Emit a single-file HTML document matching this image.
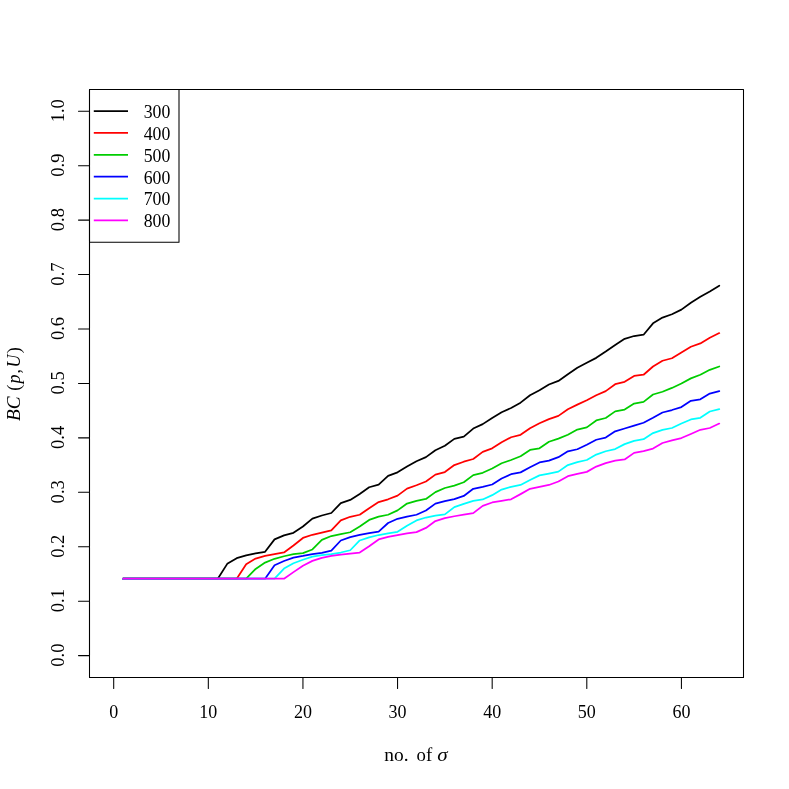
<!DOCTYPE html>
<html><head><meta charset="utf-8"><title>plot</title>
<style>
html,body{margin:0;padding:0;background:#fff;}
body{width:789px;height:789px;overflow:hidden;}
svg{display:block;will-change:transform;}
text{font-family:"Liberation Serif",serif;font-size:18px;fill:#000;}
.i{font-style:italic;}
.ax{stroke:#000;stroke-width:1.05;fill:none;stroke-linecap:round;stroke-linejoin:round;}
.d{fill:none;stroke-width:1.75;stroke-linecap:round;stroke-linejoin:round;}
</style></head><body>
<svg width="789" height="789" viewBox="0 0 789 789">
<rect x="0" y="0" width="789" height="789" fill="#ffffff"/>
<polyline class="d" stroke="#000000" points="123.16,578.7 217.78,578.7 227.24,563.87 236.71,558.16 246.17,555.37 255.63,553.35 265.09,551.83 274.55,539.4 284.02,535.35 293.48,532.81 302.94,526.54 312.4,518.56 321.86,515.51 331.33,512.98 340.79,503.09 350.25,499.92 359.71,493.97 369.17,487.25 378.64,484.71 388.1,475.84 397.56,472.36 407.02,466.58 416.48,461.25 425.95,457.15 435.41,450.3 444.87,445.74 454.33,438.9 463.79,436.62 473.26,428.56 482.72,424.14 492.18,417.91 501.64,412.28 511.1,407.94 520.57,402.67 530.03,395.26 539.49,390.31 548.95,384.55 558.41,380.92 567.88,374.33 577.34,367.74 586.8,362.8 596.26,357.85 605.72,351.59 615.19,345 624.65,338.82 634.11,336.02 643.57,334.7 653.03,323.33 662.5,317.57 671.96,314.27 681.42,309.66 690.88,302.74 700.34,296.81 709.81,291.53 719.27,285.77"/>
<polyline class="d" stroke="#ff0000" points="123.16,578.7 236.71,578.7 246.17,564.25 255.63,558.54 265.09,555.88 274.55,554.11 284.02,552.46 293.48,545.55 302.94,537.95 312.4,534.78 321.86,532.62 331.33,530.34 340.79,520.33 350.25,516.78 359.71,514.75 369.17,508.16 378.64,502.08 388.1,499.29 397.56,495.63 407.02,488.63 416.48,485.29 425.95,481.48 435.41,474.64 444.87,472.05 454.33,465.06 463.79,461.71 473.26,458.97 482.72,451.83 492.18,448.33 501.64,442.24 511.1,437.27 520.57,434.8 530.03,428.21 539.49,423.27 548.95,419.15 558.41,415.85 567.88,409.26 577.34,404.65 586.8,400.2 596.26,395.26 605.72,391.14 615.19,384.22 624.65,381.83 634.11,375.9 643.57,374.74 653.03,366.51 662.5,360.74 671.96,358.27 681.42,352.5 690.88,346.73 700.34,343.44 709.81,337.67 719.27,333.06"/>
<polyline class="d" stroke="#00cd00" points="123.16,578.7 246.17,578.7 255.63,568.94 265.09,562.6 274.55,558.8 284.02,556.26 293.48,554.17 302.94,553.16 312.4,549.48 321.86,539.85 331.33,536.05 340.79,534.14 350.25,532.24 359.71,526.54 369.17,519.95 378.64,516.65 388.1,514.75 397.56,510.38 407.02,503.54 416.48,500.8 425.95,498.97 435.41,492.13 444.87,488.02 454.33,485.59 463.79,482.24 473.26,475.1 482.72,472.81 492.18,468.56 501.64,463.23 511.1,460.01 520.57,456.22 530.03,449.96 539.49,448.31 548.95,441.72 558.41,438.59 567.88,434.8 577.34,429.53 586.8,427.39 596.26,420.47 605.72,417.99 615.19,411.4 624.65,409.59 634.11,403.58 643.57,401.93 653.03,394.52 662.5,391.72 671.96,387.93 681.42,383.48 690.88,378.37 700.34,374.74 709.81,369.8 719.27,366.51"/>
<polyline class="d" stroke="#0000ff" points="123.16,578.7 265.09,578.7 274.55,565.26 284.02,560.95 293.48,557.59 302.94,555.94 312.4,554.04 321.86,552.78 331.33,550.62 340.79,540.48 350.25,537.06 359.71,534.78 369.17,533.13 378.64,531.61 388.1,522.98 397.56,518.8 407.02,516.64 416.48,514.74 425.95,510.56 435.41,503.59 444.87,501.05 454.33,499.15 463.79,495.93 473.26,488.78 482.72,486.81 492.18,484.52 501.64,478.44 511.1,474.18 520.57,472.36 530.03,467.34 539.49,462.47 548.95,460.65 558.41,457.15 567.88,451.37 577.34,449.24 586.8,444.69 596.26,439.74 605.72,437.56 615.19,431.3 624.65,428.49 634.11,425.69 643.57,422.73 653.03,417.78 662.5,412.51 671.96,410.04 681.42,407.07 690.88,400.81 700.34,399.33 709.81,393.56 719.27,391.09"/>
<polyline class="d" stroke="#00ffff" points="123.16,578.7 274.55,578.7 284.02,568.56 293.48,563.23 302.94,559.75 312.4,556.58 321.86,555.06 331.33,554.04 340.79,552.52 350.25,550.24 359.71,540.48 369.17,537.31 378.64,535.02 388.1,533.37 397.56,531.85 407.02,525.77 416.48,520.44 425.95,517.53 435.41,515.63 444.87,514.36 454.33,507.14 463.79,503.84 473.26,500.95 482.72,499.43 492.18,495.17 501.64,489.54 511.1,486.81 520.57,484.98 530.03,479.96 539.49,475.4 548.95,473.57 558.41,471.6 567.88,465.06 577.34,462.17 586.8,460.01 596.26,454.57 605.72,451.23 615.19,449.09 624.65,444.15 634.11,440.85 643.57,439.2 653.03,433.11 662.5,429.81 671.96,428 681.42,423.55 690.88,419.43 700.34,417.78 709.81,411.52 719.27,409.22"/>
<polyline class="d" stroke="#ff00ff" points="123.16,578.7 284.02,578.7 293.48,572.1 302.94,565.77 312.4,560.89 321.86,557.85 331.33,555.94 340.79,554.68 350.25,553.54 359.71,552.52 369.17,546.19 378.64,539.46 388.1,536.92 397.56,535.02 407.02,533.37 416.48,532.1 425.95,527.92 435.41,521.08 444.87,518.16 454.33,516.26 463.79,514.64 473.26,513.12 482.72,505.82 492.18,502.47 501.64,500.95 511.1,499.28 520.57,494.11 530.03,488.78 539.49,486.81 548.95,484.98 558.41,481.48 567.88,476.16 577.34,473.88 586.8,471.87 596.26,466.6 605.72,463.1 615.19,460.62 624.65,459.47 634.11,452.88 643.57,451.07 653.03,448.6 662.5,442.99 671.96,440.36 681.42,438.05 690.88,433.93 700.34,429.81 709.81,428 719.27,423.55"/>
<path class="ax" d="M113.7 677.4 H681.42 M113.7 677.4 v11 M208.32 677.4 v11 M302.94 677.4 v11 M397.56 677.4 v11 M492.18 677.4 v11 M586.8 677.4 v11 M681.42 677.4 v11"/>
<text x="113.7" y="717.9" text-anchor="middle">0</text>
<text x="208.32" y="717.9" text-anchor="middle">10</text>
<text x="302.94" y="717.9" text-anchor="middle">20</text>
<text x="397.56" y="717.9" text-anchor="middle">30</text>
<text x="492.18" y="717.9" text-anchor="middle">40</text>
<text x="586.8" y="717.9" text-anchor="middle">50</text>
<text x="681.42" y="717.9" text-anchor="middle">60</text>
<path class="ax" d="M89.5 655.6 V111.25 M89.5 655.6 h-11 M89.5 601.16 h-11 M89.5 546.73 h-11 M89.5 492.3 h-11 M89.5 437.86 h-11 M89.5 383.43 h-11 M89.5 328.99 h-11 M89.5 274.56 h-11 M89.5 220.12 h-11 M89.5 165.68 h-11 M89.5 111.25 h-11"/>
<text transform="translate(64,655.1) rotate(-90)" text-anchor="middle" textLength="23.2" lengthAdjust="spacingAndGlyphs">0.0</text>
<text transform="translate(64,600.66) rotate(-90)" text-anchor="middle" textLength="23.2" lengthAdjust="spacingAndGlyphs">0.1</text>
<text transform="translate(64,546.23) rotate(-90)" text-anchor="middle" textLength="23.2" lengthAdjust="spacingAndGlyphs">0.2</text>
<text transform="translate(64,491.8) rotate(-90)" text-anchor="middle" textLength="23.2" lengthAdjust="spacingAndGlyphs">0.3</text>
<text transform="translate(64,437.36) rotate(-90)" text-anchor="middle" textLength="23.2" lengthAdjust="spacingAndGlyphs">0.4</text>
<text transform="translate(64,382.93) rotate(-90)" text-anchor="middle" textLength="23.2" lengthAdjust="spacingAndGlyphs">0.5</text>
<text transform="translate(64,328.49) rotate(-90)" text-anchor="middle" textLength="23.2" lengthAdjust="spacingAndGlyphs">0.6</text>
<text transform="translate(64,274.06) rotate(-90)" text-anchor="middle" textLength="23.2" lengthAdjust="spacingAndGlyphs">0.7</text>
<text transform="translate(64,219.62) rotate(-90)" text-anchor="middle" textLength="23.2" lengthAdjust="spacingAndGlyphs">0.8</text>
<text transform="translate(64,165.18) rotate(-90)" text-anchor="middle" textLength="23.2" lengthAdjust="spacingAndGlyphs">0.9</text>
<text transform="translate(64,110.75) rotate(-90)" text-anchor="middle" textLength="23.2" lengthAdjust="spacingAndGlyphs">1.0</text>
<rect class="ax" x="89.5" y="89.5" width="654" height="587.9"/>
<text x="384.3" y="760.7" textLength="24.3" lengthAdjust="spacingAndGlyphs">no.</text>
<text x="416.6" y="760.7" textLength="15.6" lengthAdjust="spacingAndGlyphs">of</text>
<text class="i" x="437.2" y="760.7" textLength="10.4" lengthAdjust="spacingAndGlyphs">σ</text>
<g transform="translate(20,421) rotate(-90)"><text class="i" x="0" y="0" textLength="24.6" lengthAdjust="spacingAndGlyphs">BC</text><text x="30.2" y="0">(</text><text class="i" x="37.4" y="0">p</text><text x="47.6" y="0">,</text><text class="i" x="53.4" y="0">U</text><text x="67.8" y="0">)</text></g>
<rect class="ax" x="89.5" y="89.5" width="89.5" height="152.65" fill="#fff"/>
<path class="d" stroke="#000000" style="stroke-linecap:butt" d="M93.8 111.1 H128"/><text x="143.7" y="118" textLength="26.6" lengthAdjust="spacingAndGlyphs">300</text>
<path class="d" stroke="#ff0000" style="stroke-linecap:butt" d="M93.8 132.95 H128"/><text x="143.7" y="139.85" textLength="26.6" lengthAdjust="spacingAndGlyphs">400</text>
<path class="d" stroke="#00cd00" style="stroke-linecap:butt" d="M93.8 154.8 H128"/><text x="143.7" y="161.7" textLength="26.6" lengthAdjust="spacingAndGlyphs">500</text>
<path class="d" stroke="#0000ff" style="stroke-linecap:butt" d="M93.8 176.65 H128"/><text x="143.7" y="183.55" textLength="26.6" lengthAdjust="spacingAndGlyphs">600</text>
<path class="d" stroke="#00ffff" style="stroke-linecap:butt" d="M93.8 198.5 H128"/><text x="143.7" y="205.4" textLength="26.6" lengthAdjust="spacingAndGlyphs">700</text>
<path class="d" stroke="#ff00ff" style="stroke-linecap:butt" d="M93.8 220.35 H128"/><text x="143.7" y="227.25" textLength="26.6" lengthAdjust="spacingAndGlyphs">800</text>
</svg>
</body></html>
